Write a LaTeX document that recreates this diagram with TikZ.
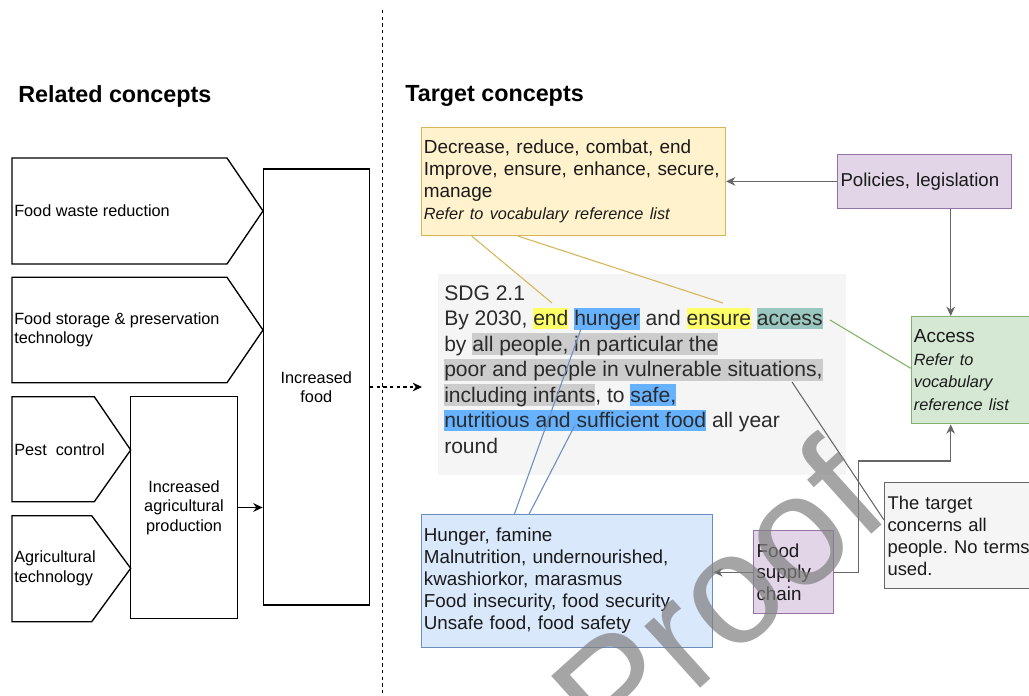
\documentclass[tikz,border=0pt]{standalone}
\usepackage{fontspec}
\setmainfont{Liberation Sans}
\usetikzlibrary{arrows.meta,calc}
\definecolor{yfill}{HTML}{FFF2CC}\definecolor{ydraw}{HTML}{D6B656}
\definecolor{pfill}{HTML}{E1D5E7}\definecolor{pdraw}{HTML}{9673A6}
\definecolor{gfill}{HTML}{D5E8D4}\definecolor{gdraw}{HTML}{82B366}
\definecolor{bfill}{HTML}{DAE8FC}\definecolor{bdraw}{HTML}{6C8EBF}
\definecolor{sfill}{HTML}{F5F5F5}\definecolor{cgray}{HTML}{666666}
\definecolor{txt}{HTML}{1A1A1A}\definecolor{sdgtxt}{HTML}{2B2B2B}
\definecolor{hly}{HTML}{FFFF66}\definecolor{hlb}{HTML}{66B2FF}
\definecolor{hlt}{HTML}{9AC7BF}\definecolor{hlg}{HTML}{CCCCCC}
\newcommand\hl[2]{{\setlength{\fboxsep}{0pt}\colorbox{#1}{\rule[-0.17em]{0pt}{1.02em}#2}}}
\frenchspacing
\begin{document}
\begin{tikzpicture}[x=0.75pt,y=-0.75pt,
  blk/.style={draw=black,line width=1pt},
  ltext/.style={anchor=west,inner sep=0pt,align=left,text=black,font=\fontsize{12.2}{14.6}\selectfont},
  rbox/.style={blk,rectangle,inner sep=0pt,align=center,text=black,font=\fontsize{12.2}{14.5}\selectfont},
  head/.style={anchor=base west,inner sep=0pt,font=\fontsize{17.5}{20}\selectfont\bfseries},
  cbox/.style={rectangle,anchor=north west,inner xsep=2pt,inner ysep=0pt,align=left,text=txt,line width=0.8pt},
  sdgl/.style={anchor=base west,inner sep=0pt,text=sdgtxt,font=\fontsize{15.8}{19}\selectfont},
  garrow/.style={draw=cgray,line width=1pt,-{Stealth[length=7pt,width=6.5pt]}},
  thin/.style={line width=0.8pt},
  divider/.style={draw=black,line width=0.8pt,dash pattern=on 2.5pt off 2.5pt}
]
\fill[white] (0,0) rectangle (1029,696);
\useasboundingbox (0,0) rectangle (1029,696);

% headings
\node[head] (relh) at (18,102.3) {Related concepts};
\node[head] (tgth) at (405,101.7) {Target concepts};

% divider
\coordinate (dtop) at (382.5,10);
\coordinate (dbot) at (382.5,696);
\draw[divider] (dtop) -- (dbot);

% left side
\node[rbox,minimum width=79.5pt,minimum height=327pt] (incfood) at (316.3,387) {Increased\\food};
\node[rbox,minimum width=80pt,minimum height=166.2pt] (agri) at (184,507.5) {Increased\\agricultural\\production};
\draw[blk] (12,158) -- (227,158) -- (263,211) -- (227,264) -- (12,264) -- cycle;
\draw[blk] (12,277.3) -- (227,277.3) -- (263,330) -- (227,382.7) -- (12,382.7) -- cycle;
\draw[blk] (12,396.7) -- (94.3,396.7) -- (130.7,450) -- (94.3,501.7) -- (12,501.7) -- cycle;
\draw[blk] (12,515.7) -- (91.7,515.7) -- (130.7,568.3) -- (91.7,621.7) -- (12,621.7) -- cycle;
\node[ltext] (fw) at (14,211) {Food waste reduction};
\node[ltext] (fs) at (14,330) {Food storage \& preservation\\technology};
\node[ltext] (pc) at (14,450) {Pest\ \ control};
\node[ltext] (at) at (14,568.3) {Agricultural\\technology};
\draw[blk,-{Stealth[length=7pt,width=6.5pt]}] (agri.east) -- (agri.east -| incfood.west);
\coordinate (dashend) at (422,387);
\draw[divider,-{Stealth[length=7pt,width=6.5pt]}] (incfood.east) -- (dashend);

% right side boxes
\node[cbox,draw=ydraw,fill=yfill,minimum width=228.2pt,minimum height=80.8pt,text width=224.2pt,font=\fontsize{14.2}{16.5}\selectfont] (ybox) at (420.7,127.3)
  {Decrease, reduce, combat, end\\Improve, ensure, enhance, secure,\\manage\\{\fontsize{12.2}{16.5}\selectfont\itshape Refer to vocabulary reference list}};
\node[cbox,draw=pdraw,fill=pfill,minimum width=130pt,minimum height=40.3pt,text width=126pt,font=\fontsize{14}{16.5}\selectfont] (pol) at (837.3,154) {Policies, legislation};
\node[cbox,draw=gdraw,fill=gfill,minimum width=97pt,minimum height=80.5pt,text width=93pt,font=\fontsize{14.2}{17}\selectfont] (acc) at (910.7,316)
  {Access\\{\fontsize{12.2}{17}\selectfont\itshape Refer to}\\{\fontsize{12.2}{17}\selectfont\itshape vocabulary}\\{\fontsize{12.2}{17}\selectfont\itshape reference list}};
\node[cbox,fill=sfill,minimum width=305.8pt,minimum height=150.8pt] (sdg) at (437.3,273.3) {};
\node[cbox,draw=bdraw,fill=bfill,minimum width=218.7pt,minimum height=99.3pt,text width=214.7pt,font=\fontsize{14.1}{16.5}\selectfont] (bbox) at (420.7,514.3)
  {Hunger, famine\\Malnutrition, undernourished,\\kwashiorkor, marasmus\\Food insecurity, food security\\Unsafe food, food safety};
\node[cbox,draw=pdraw,fill=pfill,inner xsep=2.5pt,minimum width=60pt,minimum height=62.5pt,text width=55pt,font=\fontsize{14.1}{16.3}\selectfont] (fsc) at (752.7,530)
  {Food\\supply\\chain};
\node[cbox,draw=cgray,fill=sfill,inner xsep=2.25pt,minimum width=117pt,minimum height=79.5pt,text width=112.5pt,font=\fontsize{13.8}{16.7}\selectfont] (tgt) at (884,482.3)
  {The target\\concerns all\\people. No terms\\used.};

% SDG text lines
\node[sdgl] (l1) at (444,300) {SDG 2.1};
\node[sdgl] (l2) at (444,325.5) {By 2030, \hl{hly}{end} \hl{hlb}{hunger} and \hl{hly}{ensure} \hl{hlt}{access}};
\node[sdgl] (l3) at (444,351) {by \hl{hlg}{all people, in particular the}};
\node[sdgl] (l4) at (444,376.5) {\hl{hlg}{poor and people in vulnerable situations,}};
\node[sdgl] (l5) at (444,402) {\hl{hlg}{including infants}, to \hl{hlb}{safe,}};
\node[sdgl] (l6) at (444,427.5) {\hl{hlb}{nutritious and sufficient food} all year};
\node[sdgl] (l7) at (444,453) {round};

% word anchor points
\coordinate (endw) at (552,303);
\coordinate (ensurew) at (723,303);
\coordinate (hungw) at (581,329);
\coordinate (nutw) at (575,425);
\coordinate (accw) at (830,320);
\coordinate (situw) at (792,382);

% connectors
\draw[thin,draw=ydraw] ($(ybox.south west)+(51,0)$) -- (endw);
\draw[thin,draw=ydraw] ($(ybox.south west)+(97.3,0)$) -- (ensurew);
\draw[thin,draw=bdraw] ($(bbox.north west)+(93.6,0)$) -- (hungw);
\draw[thin,draw=bdraw] ($(bbox.north west)+(108.3,0)$) -- (nutw);
\draw[thin,draw=gdraw] (accw) -- ($(acc.north west)+(0,52.3)$);
\draw[thin,draw=cgray] (situw) -- ($(tgt.north west)+(0,37.7)$);

\draw[garrow] (pol.west) -- (pol.west -| ybox.east);
\coordinate (polout) at ($(pol.south west)+(113.4,0)$);
\draw[garrow] (polout) -- (polout |- acc.north);
\draw[garrow] (fsc.west) -- (fsc.west -| bbox.east);
\coordinate (accin) at ($(acc.south west)+(40,0)$);
\draw[garrow] (fsc.east) -| (858.3,461) -| (accin);

% watermark
\node[rotate=42,anchor=base west,inner sep=0pt,text=gray,text opacity=0.7,font=\fontsize{118}{118}\selectfont] (wm) at (614,766) {Proof};
\end{tikzpicture}
\end{document}
